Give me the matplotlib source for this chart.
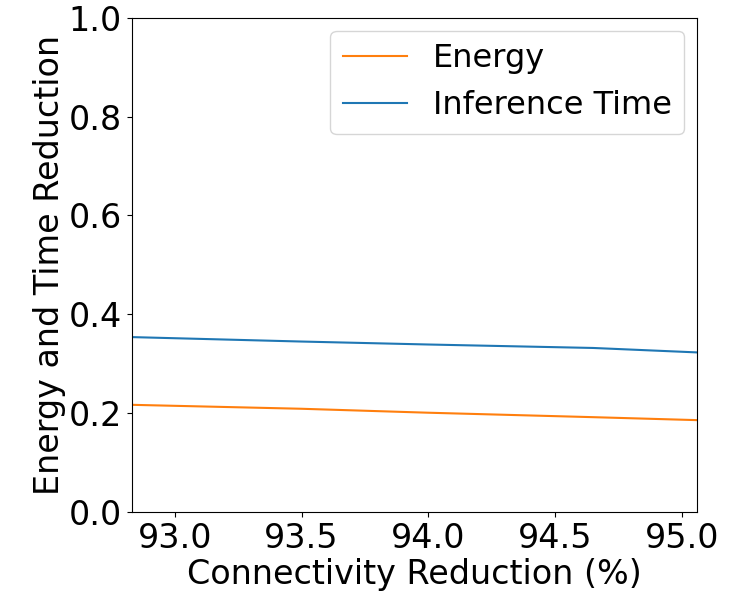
import matplotlib
matplotlib.use('Agg')
import matplotlib.pyplot as plt

conn_reduction = [92.83, 93.5, 94.0, 94.65, 95.06]
energy = [0.217, 0.209, 0.201, 0.192, 0.186]
inference_time = [0.354, 0.345, 0.339, 0.332, 0.323]

fig = plt.figure(figsize=(7.48, 5.92), dpi=100)
ax = fig.add_axes([0.176, 0.135, 0.756, 0.835])
ax.plot(conn_reduction, energy, color='tab:orange', label='Energy')
ax.plot(conn_reduction, inference_time, color='tab:blue', label='Inference Time')
ax.set_xlim(conn_reduction[0], conn_reduction[-1])
ax.set_ylim(0, 1.0)
ax.set_xticks([93.0, 93.5, 94.0, 94.5, 95.0])
ax.tick_params(labelsize=24)
ax.set_xlabel('Connectivity Reduction (%)', fontsize=24, labelpad=2)
ax.set_ylabel('Energy and Time Reduction', fontsize=24, labelpad=2)
ax.legend(fontsize=23, loc='upper right', borderaxespad=0.4)
fig.savefig('out.png')
